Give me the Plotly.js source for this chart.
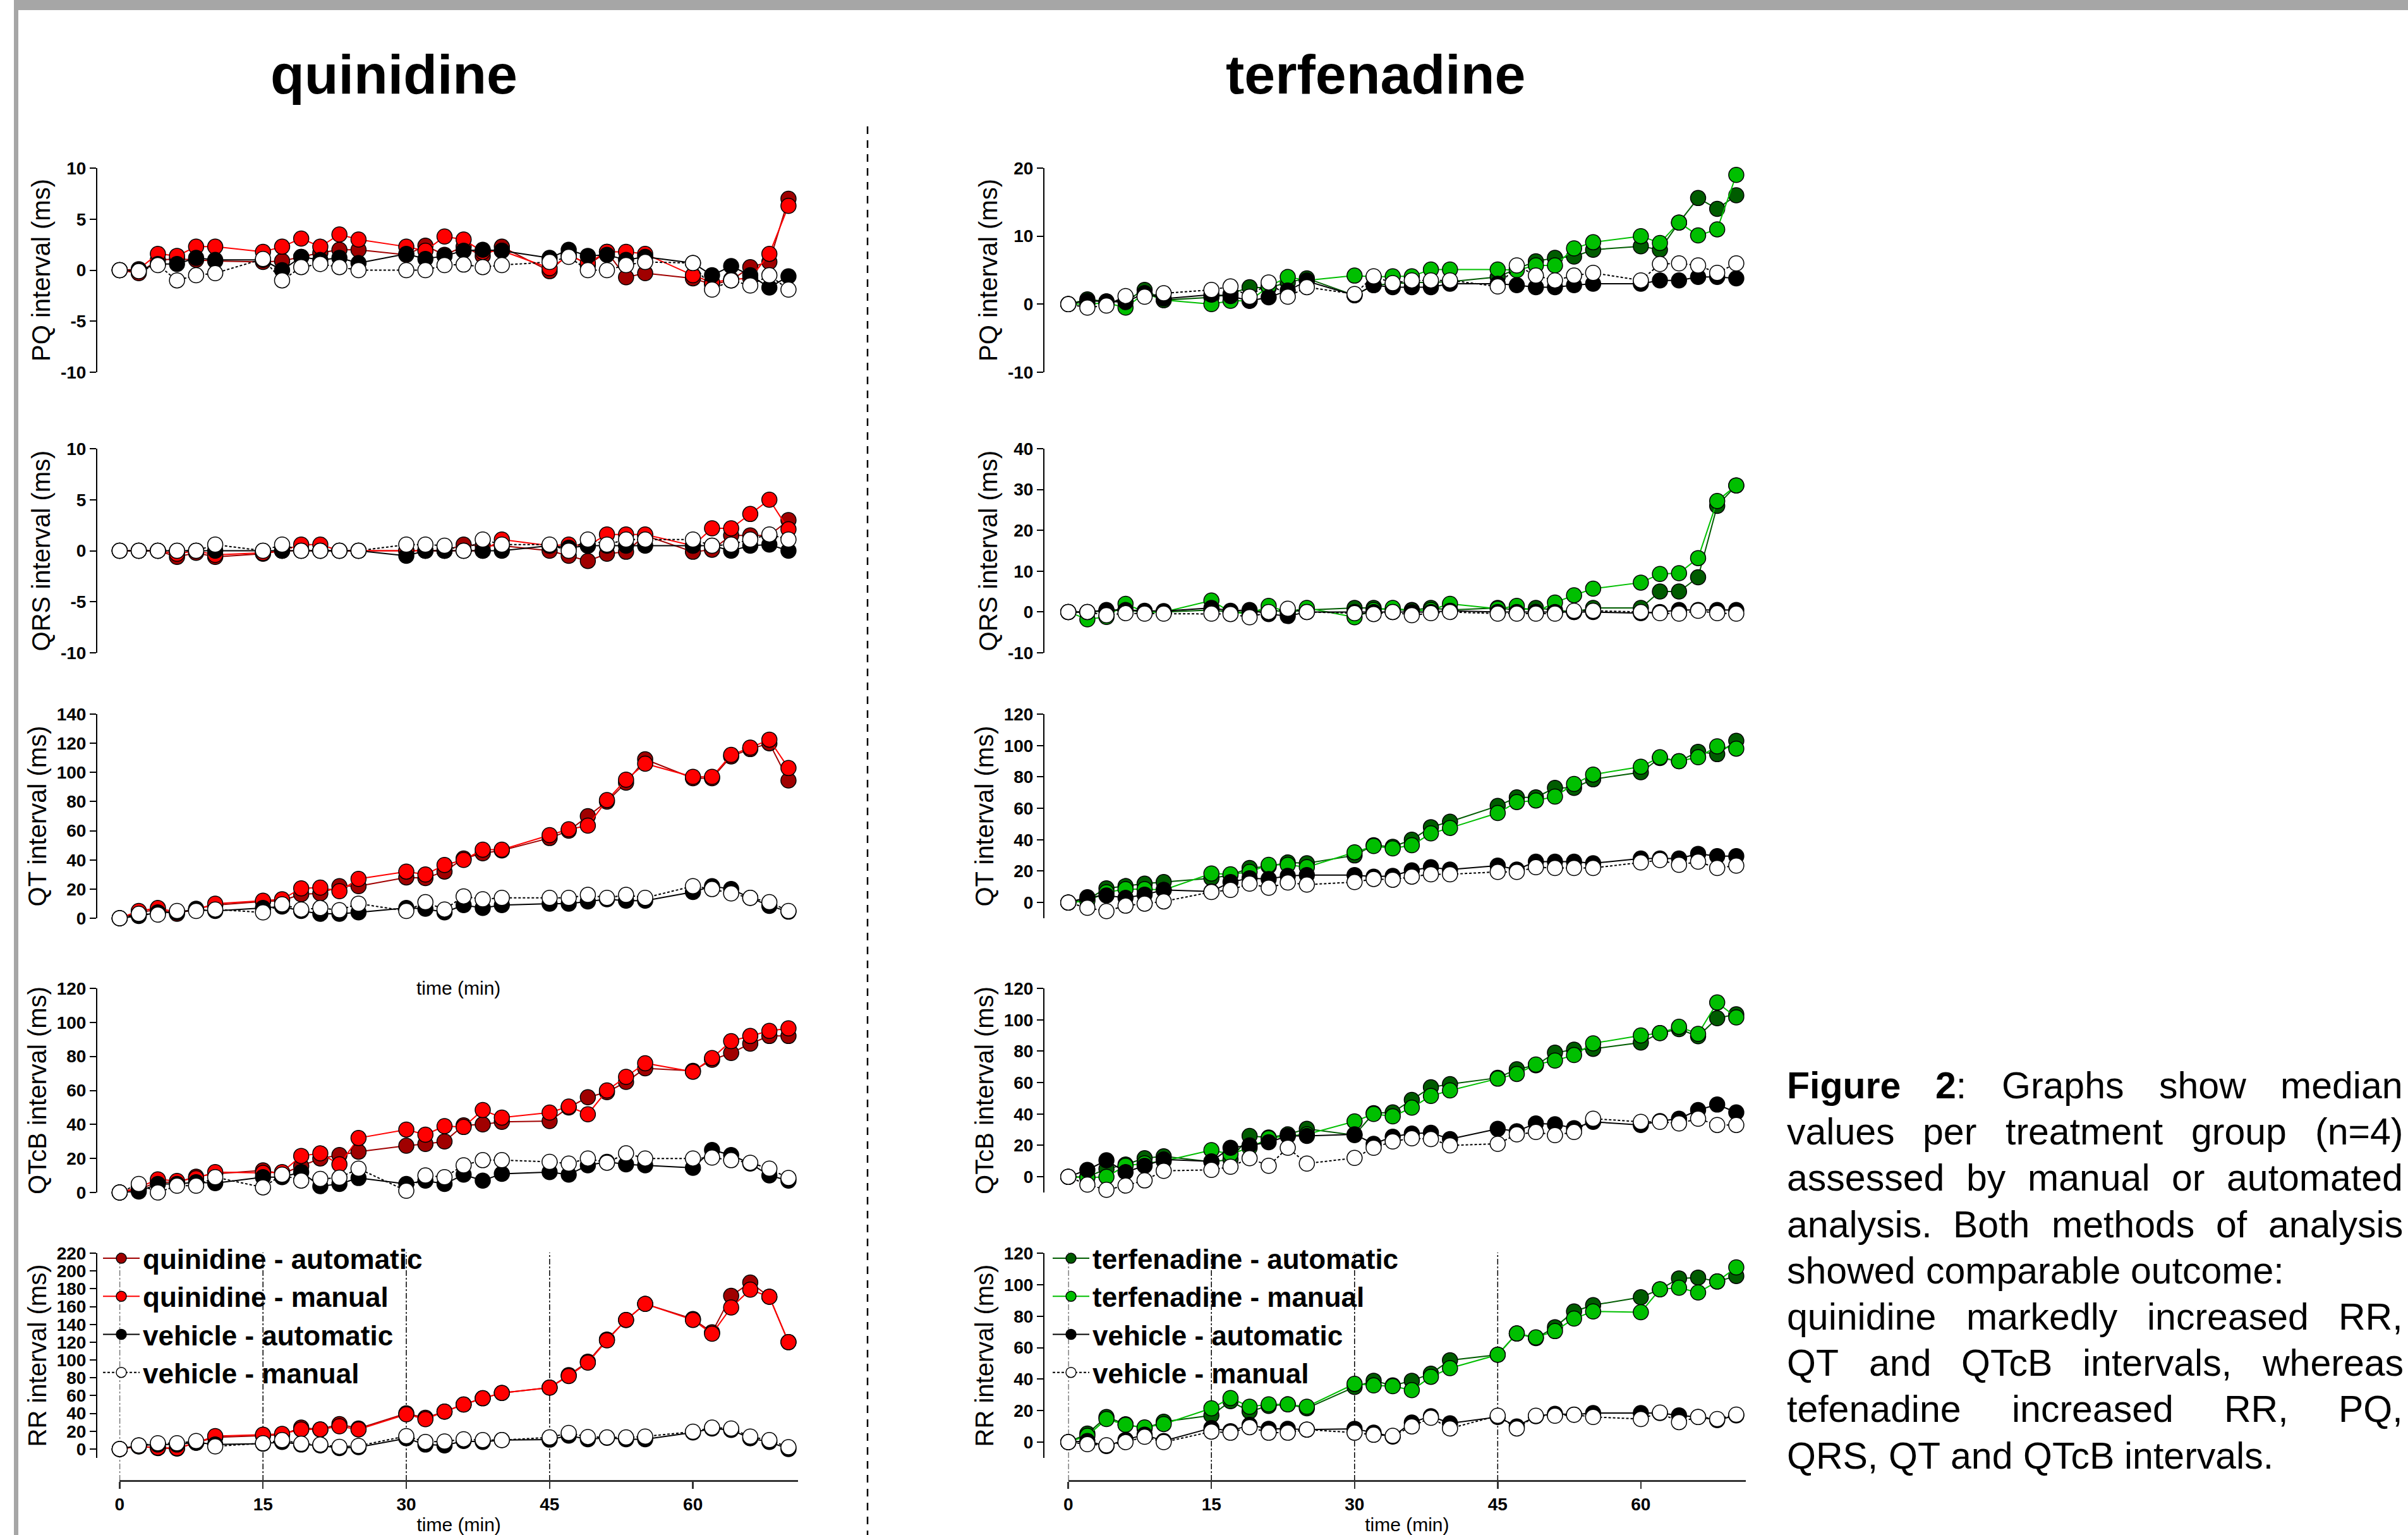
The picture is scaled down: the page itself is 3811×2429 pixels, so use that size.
<!DOCTYPE html>
<html>
<head>
<meta charset="utf-8">
<script src="https://cdn.plot.ly/plotly-3.0.1.min.js"></script>
<style>
html,body{margin:0;padding:0;background:#fff;}
#chart{width:3811px;height:2429px;}
</style>
</head>
<body>
<div id="chart"></div>
<script>
// ---------------- DATA ----------------
const timeMin = [0,2,4,6,8,10,15,17,19,21,23,25,30,32,34,36,38,40,45,47,49,51,53,55,60,62,64,66,68,70];
const doseTimes = [0,15,30,45];
const xTicks = [0,15,30,45,60];

const seriesNamesQ = ["quinidine - automatic","quinidine - manual","vehicle - automatic","vehicle - manual"];
const seriesNamesT = ["terfenadine - automatic","terfenadine - manual","vehicle - automatic","vehicle - manual"];
const panelTitles = ["PQ interval (ms)","QRS interval (ms)","QT interval (ms)","QTcB interval (ms)","RR interval (ms)"];
const columnTitles = ["quinidine","terfenadine"];

// quinidine PQ
const qPQ_auto = [0,-0.3,1.0,1.1,1.0,0.9,0.8,0.9,1.3,1.7,2.0,2.0,1.5,2.4,1.5,2.3,1.4,2.3,-0.1,1.6,0.5,1.8,-0.7,-0.3,-0.8,-1.4,-1.0,0.3,0.8,7.0];
const qPQ_man  = [0,0.1,1.6,1.4,2.3,2.3,1.8,2.3,3.1,2.3,3.5,3.0,2.3,1.9,3.3,3.0,1.8,1.9,0.2,1.4,0.7,1.8,1.8,1.6,-0.5,-1.2,-0.9,-0.8,1.6,6.3];
const qPQ_vehA = [0,0,0.6,0.6,1.2,1.0,1.0,0,1.3,1.0,1.2,0.7,1.6,1.1,1.4,1.9,2.0,1.9,1.2,2.0,1.4,1.5,1.0,1.3,0.7,-0.5,0.4,-0.5,-1.7,-0.6];
const qPQ_vehM = [0,-0.1,0.5,-1.0,-0.5,-0.3,1.1,-1.0,0.3,0.6,0.3,0,0,0,0.5,0.55,0.3,0.5,0.8,1.3,0,0,0.5,0.8,0.7,-1.9,-1.0,-1.5,-0.5,-1.9];
// quinidine QRS
const qQRS_auto = [0,0,0,-0.6,-0.2,-0.6,-0.3,0,0,0,0,0,0,0,0,0.6,0.5,0.5,0,-0.5,-1.0,-0.3,-0.1,1.5,-0.1,0.1,1.5,1.5,1.5,3.0];
const qQRS_man  = [0,0,0,-0.3,0,-0.4,-0.2,0,0.6,0.6,0,0,0,0,0,0,0,1.1,0.5,0.6,0.5,1.6,1.6,1.6,0.5,2.2,2.2,3.6,5.0,2.1];
const qQRS_vehA = [0,0,0,0,0,0,0,0,0,0,0,0,-0.5,0,0,0,0,0,0.5,0.3,0.5,0.5,0.5,0.5,0.5,0.5,0,0.5,0.6,0];
const qQRS_vehM = [0,0,0,0,0,0.6,0,0.6,0,0,0,0,0.6,0.6,0.5,0,1.1,0.6,0.6,0,1.1,0.6,1.1,1.1,1.1,0.5,0.6,1.1,1.6,1.1];
// quinidine QT
const qQT_auto = [0,4,6,3,6.5,9,11.5,12,16.5,17,22,22,28,27.5,32,41,44.5,46.5,55,60,70,80,93,109,96,96,111,116,120,94.5];
const qQT_man  = [0,5,7,4,6,10,12,13,20.5,21,18.5,27,32,30,36.5,40,47,47,57,61,63.5,81,95,106,97,97,112,117,122.5,103];
const qQT_vehA = [0,1.5,4,4,5.8,5,7,8,5,3,3,4,7,6.5,4,9,7,9,10,10,11.5,13,12,12,18,22,20,14,8.5,4.5];
const qQT_vehM = [0,3,2.5,5,5,6,4,9.5,6,7,5.5,10,5,11,6,15,13,14,14,14,16,14,16,14,22,20,17,14,11,5];
// quinidine QTcB
const qQTcB_auto = [0,2,6,6,9.3,11,13,11,15.5,20,22,24,27.5,28.5,30,39.5,40,41.5,42,50,56,59,65,73,71.5,78,82,87.5,92,92];
const qQTcB_man  = [0,3,7.7,6.8,8.4,12,11.5,12,21.5,23,16.5,32,37,34,39,38.5,48.5,44,47,50.5,46,60,68,76,71,79,89,92,95,96.5];
const qQTcB_vehA = [0,0.6,5,5,6,5.5,9,9,12,3.7,5,8.5,5,7,5,10.5,7,11,12,10.5,16,18,16.5,16,14.5,25,22,17,10,7];
const qQTcB_vehM = [0,5,0,4,4,9,3,10.5,7,8,8.7,14,1,10,9,16,19,19,18,17,20,17.5,23,20,20,20.5,19,17.5,14,8.5];
// quinidine RR
const qRR_auto = [0,3,1,0.5,7,13,15,16,24,22,28,23,40,35,42,50,57,63,69,83,98,123,145,163,146,131,172,187,171,120];
const qRR_man  = [0,3,1.5,1,7,14.5,16,17,22,22,25.5,22,39,33.5,42,50,57,63,69,82,97,122,145,163,145,129.5,159,179,171,120];
const qRR_vehA = [0,4,5,5,7.5,5,6,8,5,4,1,2,12,5,4,9,8,10,10.5,15,11,12.5,11,11,18.5,23,21.5,12,8,0];
const qRR_vehM = [0,4,6.5,6.5,9,3,6.5,10,6,5,2.5,3.5,14.5,8,8.5,11,10,10,13,18,13.5,13,13,14,19.5,24,23,14,10,2];

// terfenadine PQ
const tPQ_auto = [0,0.7,0.4,0.5,2.1,0.6,1.0,1.5,2.5,2.4,3.2,3.8,1.3,2.8,3.0,3.2,3.2,3.3,4.0,5.2,6.3,6.8,7.0,8.0,8.5,8.0,12,15.6,14,16];
const tPQ_man  = [0,0,0.2,-0.5,1.6,0.6,0,0.5,0.5,2.6,4.0,3.5,4.2,4.0,4.1,4.1,5.1,5.1,5.1,5.0,5.7,5.7,8.2,9.1,10.0,9.0,12,10.1,11,19];
const tPQ_vehA = [0,0.5,0.4,0.3,1.6,0.8,1.4,1.2,0.5,1.0,2.0,3.4,1.3,2.8,2.5,2.5,2.5,3.0,3.0,2.8,2.5,2.5,2.8,3.0,3.0,3.5,3.5,4.0,4.0,3.8];
const tPQ_vehM = [0,-0.5,-0.2,1.2,1.1,1.6,2.1,2.6,1.1,3.2,1.1,2.5,1.5,4.1,3.1,3.5,3.5,3.5,2.6,5.7,4.2,3.5,4.2,4.6,3.5,5.9,6.0,5.7,4.6,6.0];
// terfenadine QRS
const tQRS_auto = [0,0,0.3,0.5,0,0,0.5,0,0,0.5,0,0.5,1.0,1.0,0.5,0.5,1.0,0.5,1.0,0.5,1.0,0.5,0,1.0,1.0,5.0,5.0,8.5,26,31];
const tQRS_man  = [0,-1.8,-1.2,2.0,0,0,2.8,0,-0.5,1.5,0,1.0,-1.3,0.5,1.0,0.3,0.5,2.0,0.8,1.5,0,2.3,4.1,5.7,7.2,9.3,9.5,13.2,27.2,31];
const tQRS_vehA = [0,0,0.5,0.5,0.3,0.2,1.0,0.3,0.5,-0.5,-1.0,0,0,0,0,0,0,0.3,0,0,0,0,0,0,-0.3,0,0.5,0.5,0.5,0.5];
const tQRS_vehM = [0,0,-0.8,-0.3,-0.4,-0.4,-0.4,-0.5,-1.3,0,0.8,0,-0.3,-0.5,0,-0.8,-0.3,0,-0.4,-0.4,-0.4,-0.4,0.3,0.3,0,-0.3,-0.4,0.3,-0.3,-0.4];
// terfenadine QT
const tQT_auto = [0,2,9,10.5,12,13,15.5,17.5,22,23,25.5,25,30,36.5,35.5,40,48,51.5,61.5,67,67,73,73,78.5,83,92,90,96,94.5,103];
const tQT_man  = [0,1,6.5,8.5,8.5,8,18.5,18,19.5,24,24,22.5,32,36,34.5,36.5,44,47.5,57,64,65,67.5,75.5,81.5,86.5,92.5,90,92.5,99.5,98];
const tQT_vehA = [0,3.4,4.5,3,5,8,7,13,15.5,15,17,17.5,17.5,16.5,17,20.5,22.5,21,23.5,21,26,26,26,25,28,28,28,31,29.5,29.5];
const tQT_vehM = [0,-3.4,-5.5,-2,-0.7,0.7,6.7,8,12,9.4,12.7,11.4,13,15,14.5,16.5,18,18,19.5,19.5,22.5,22,22,22,25.5,27,24,26,22,23.5];
// terfenadine QTcB
const tQTcB_auto = [0,0,5,7.8,11.8,13,9.5,11,26,25,27,30.5,26.5,40.5,41,49,57,59,63,68.5,71,79,81,81.5,85.5,91.5,94,89.5,101,103.5];
const tQTcB_man  = [0,-0.5,0,7,8.5,10,17,14.5,18.5,24.5,26,27,35.3,40,38.5,44,51.5,55,62.5,65.5,71.5,74,77.5,85,90,91.5,95.5,91,111,101.5];
const tQTcB_vehA = [0,4.4,10.5,3,7,11,9.8,18.5,20,22,26,26,27,21,25.5,27.5,28,24,30.5,29,34,33.5,31,35,33,35.5,37,42.5,46,41];
const tQTcB_vehM = [0,-5,-8.3,-5.6,-2.3,3.8,4.4,6.4,11.8,7,18.5,8.4,12,18.5,22.5,24.5,24,20,21,27,28.5,26.5,28.5,37,35,35,34,37,33,33];
// terfenadine RR
const tRR_auto = [0,5.4,16,11.4,8.7,13,17,26,19.5,23,24,21.5,35,39,36,39,43.5,52,55.5,69,66,73,83,87,92,97,104,104.5,102,105.5];
const tRR_man  = [0,4,14.7,11,9.4,11.5,21.5,28,22.5,24,24,22.5,37,36,35.5,33,41.5,47,55.5,69,66.5,70.5,78.5,83,82.5,97,98,95,102,111];
const tRR_vehA = [0,0.7,-2.5,1.5,4.7,0.7,9,7,11,8.5,8.5,8,8.5,6,3.5,12.5,16.5,12,16,10,16.5,18,17.5,18.5,18.5,18.5,17,16,14,17];
const tRR_vehM = [0,-1.3,-2,0,3.4,0,6.7,6,9.5,6,6,8,6,4.7,4,10,15.5,8.7,16.8,8.7,16.8,16.8,17.4,16,14.7,18.8,12.7,16,14.7,17.5];

// y-axis ranges & ticks per panel
const qRanges = [[-10,10],[-10,10],[0,140],[0,120],[-10,220]];
const tRanges = [[-10,20],[-10,40],[-10,120],[-10,120],[-10,120]];
const qTicks = [[-10,-5,0,5,10],[-10,-5,0,5,10],[0,20,40,60,80,100,120,140],[0,20,40,60,80,100,120],[0,20,40,60,80,100,120,140,160,180,200,220]];
const tTicks = [[-10,0,10,20],[-10,0,10,20,30,40],[0,20,40,60,80,100,120],[0,20,40,60,80,100,120],[0,20,40,60,80,100,120]];

const captionLines = [
  ["<b>Figure</b>","<b>2</b>:","Graphs","show","median"],
  ["values","per","treatment","group","(n=4)"],
  ["assessed","by","manual","or","automated"],
  ["analysis.","Both","methods","of","analysis"],
  ["showed","comparable","outcome:"],
  ["quinidine","markedly","increased","RR,"],
  ["QT","and","QTcB","intervals,","whereas"],
  ["tefenadine","increased","RR,","PQ,"],
  ["QRS,","QT","and","QTcB","intervals."]
];
const captionJustify = [true,true,true,true,false,true,true,true,false];

// ---------------- LAYOUT HELPERS ----------------
const W = 3811, H = 2429;
const fx = p => p / W;
const fy = p => 1 - p / H;
const FONT = '"Liberation Sans", Arial, Helvetica, sans-serif';

const rowsPx = [[266,589],[710,1033],[1130,1453],[1564,1887],[1983,2307]];
const cols = [
  {x0:189.4, x1:1263, axisX:153, legendX:158, titleX:623,
   colors:['#a00000','#ff0000'], names:seriesNamesQ, ranges:qRanges, ticks:qTicks,
   data:[[qPQ_auto,qPQ_man,qPQ_vehA,qPQ_vehM],[qQRS_auto,qQRS_man,qQRS_vehA,qQRS_vehM],
         [qQT_auto,qQT_man,qQT_vehA,qQT_vehM],[qQTcB_auto,qQTcB_man,qQTcB_vehA,qQTcB_vehM],
         [qRR_auto,qRR_man,qRR_vehA,qRR_vehM]]},
  {x0:1690.7, x1:2763, axisX:1652, legendX:1661, titleX:2177,
   colors:['#005c00','#00bf00'], names:seriesNamesT, ranges:tRanges, ticks:tTicks,
   data:[[tPQ_auto,tPQ_man,tPQ_vehA,tPQ_vehM],[tQRS_auto,tQRS_man,tQRS_vehA,tQRS_vehM],
         [tQT_auto,tQT_man,tQT_vehA,tQT_vehM],[tQTcB_auto,tQTcB_man,tQTcB_vehA,tQTcB_vehM],
         [tRR_auto,tRR_man,tRR_vehA,tRR_vehM]]}
];

const traces = [];
const layout = {
  width: W, height: H,
  margin: {l:0, r:0, t:0, b:0, pad:0},
  paper_bgcolor: '#ffffff', plot_bgcolor: 'rgba(0,0,0,0)',
  font: {family: FONT, color: '#000'},
  showlegend: true,
  shapes: [], annotations: []
};

const xAxisEndTime = 71;
const xAxisLinePx = 2343;

cols.forEach((col, ci) => {
  for (let r = 0; r < 5; r++) {
    const idx = ci * 5 + r + 1;
    const xa = 'xaxis' + idx, ya = 'yaxis' + idx;
    const isBottom = (r === 4);
    layout[xa] = {
      domain: [fx(col.x0), fx(col.x1)],
      range: [0, xAxisEndTime],
      showgrid: false, zeroline: false, fixedrange: true
    };
    if (isBottom) {
      Object.assign(layout[xa], {
        anchor: 'free', position: fy(xAxisLinePx),
        showline: true, linecolor: '#333333', linewidth: 3,
        ticks: 'outside', ticklen: 11, tickwidth: 2.5, tickcolor: '#333333',
        tickvals: xTicks, ticktext: xTicks.map(String),
        tickfont: {family: FONT, size: 28, weight: 'bold', color: '#000'},
        title: {text: 'time (min)', font: {family: FONT, size: 30, color: '#000'}, standoff: 18}
      });
    } else {
      Object.assign(layout[xa], {anchor: 'y' + idx, visible: false});
    }
    layout[ya] = {
      domain: [fy(rowsPx[r][1]), fy(rowsPx[r][0])],
      range: col.ranges[r],
      anchor: 'free', position: fx(col.axisX),
      showline: true, linecolor: '#000', linewidth: 2,
      ticks: 'outside', ticklen: 10, tickwidth: 2, tickcolor: '#000',
      tickvals: col.ticks[r], ticktext: col.ticks[r].map(String),
      tickfont: {family: FONT, size: 28, weight: 'bold', color: '#000'},
      showgrid: false, zeroline: false, fixedrange: true,
      title: {text: panelTitles[r], font: {family: FONT, size: 40, color: '#000'}, standoff: 3}
    };

    const fills = [col.colors[0], col.colors[1], '#000000', '#ffffff'];
    const lineCols = [col.colors[0], col.colors[1], '#000000', '#000000'];
    const dashes = ['solid','solid','solid','4px,3px'];
    for (let s = 0; s < 4; s++) {
      traces.push({
        type: 'scatter', mode: 'lines+markers',
        x: timeMin, y: col.data[r][s],
        xaxis: 'x' + idx, yaxis: 'y' + idx,
        name: col.names[s],
        legend: ci === 0 ? 'legend' : 'legend2',
        showlegend: isBottom,
        cliponaxis: false,
        line: {color: lineCols[s], width: 2, dash: dashes[s]},
        marker: {symbol: 'circle', size: 24, color: fills[s], line: {color: '#000', width: 1.5}},
        hoverinfo: 'x+y+name'
      });
    }
  }
  // dose-time reference lines in the RR panel
  const rrIdx = ci * 5 + 5;
  doseTimes.forEach(t => {
    layout.shapes.push({
      type: 'line', layer: 'below', xref: 'x' + rrIdx, yref: 'paper',
      x0: t, x1: t, y0: fy(xAxisLinePx), y1: fy(1982),
      line: {color: '#000', width: 1.5, dash: 'dashdot'}
    });
  });
  // column title
  layout.annotations.push({
    xref: 'paper', yref: 'paper', x: fx(col.titleX), y: fy(117),
    xanchor: 'center', yanchor: 'middle', showarrow: false,
    text: '<b>' + columnTitles[ci] + '</b>',
    font: {family: FONT, size: 88, color: '#000'}
  });
});

const legendCommon = {
  xanchor: 'left', yanchor: 'top', bgcolor: 'rgba(0,0,0,0)', borderwidth: 0,
  font: {family: FONT, size: 44, weight: 'bold', color: '#000'},
  itemwidth: 58,
  tracegroupgap: 0, itemclick: false, itemdoubleclick: false
};
layout.legend = Object.assign({x: fx(cols[0].legendX), y: fy(1956)}, legendCommon);
layout.legend2 = Object.assign({x: fx(cols[1].legendX), y: fy(1956)}, legendCommon);

// decorative frame pieces: gray top bar, gray left bar, dashed divider
layout.shapes.push({type:'rect', xref:'paper', yref:'paper', x0:fx(22), x1:1, y0:fy(16), y1:1, fillcolor:'#a6a6a6', line:{width:0}, layer:'below'});
layout.shapes.push({type:'rect', xref:'paper', yref:'paper', x0:fx(22), x1:fx(29), y0:0, y1:1, fillcolor:'#a6a6a6', line:{width:0}, layer:'below'});
layout.shapes.push({type:'line', xref:'paper', yref:'paper', x0:fx(1373), x1:fx(1373), y0:fy(200), y1:0, line:{color:'#000', width:2.5, dash:'12px,10px'}});

// stray axis label in the quinidine column (present in the source figure)
layout.annotations.push({
  xref:'paper', yref:'paper', x: fx(725), y: fy(1563), xanchor:'center', yanchor:'middle',
  showarrow:false, text:'time (min)', font:{family: FONT, size: 30, color:'#000'}
});

// ---------------- CAPTION (justified) ----------------
const CAP_FS = 59, CAP_L = 2828, CAP_R = 3803, CAP_Y0 = 1718, CAP_DY = 73.2;
const ctx = document.createElement('canvas').getContext('2d');
function measureWord(word) {
  let w = 0;
  word.split(/(<b>.*?<\/b>)/).forEach(seg => {
    if (!seg) return;
    const bold = seg.indexOf('<b>') === 0;
    const t = seg.replace(/<\/?b>/g, '');
    ctx.font = (bold ? 'bold ' : '') + CAP_FS + 'px "Liberation Sans", Arial, sans-serif';
    w += ctx.measureText(t).width;
  });
  return w;
}
ctx.font = CAP_FS + 'px "Liberation Sans", Arial, sans-serif';
const spaceW = ctx.measureText(' ').width;
captionLines.forEach((words, li) => {
  const widths = words.map(measureWord);
  const total = widths.reduce((a, b) => a + b, 0);
  const gap = captionJustify[li] && words.length > 1 ? (CAP_R - CAP_L - total) / (words.length - 1) : spaceW;
  let x = CAP_L;
  words.forEach((wd, wi) => {
    layout.annotations.push({
      xref:'paper', yref:'paper', x: fx(x - 2), y: fy(CAP_Y0 + li * CAP_DY),
      xanchor:'left', yanchor:'middle', showarrow:false, text: wd,
      font:{family: FONT, size: CAP_FS, color:'#000'}
    });
    x += widths[wi] + gap;
  });
});

Plotly.newPlot('chart', traces, layout, {displayModeBar: false, staticPlot: true});
</script>
</body>
</html>
